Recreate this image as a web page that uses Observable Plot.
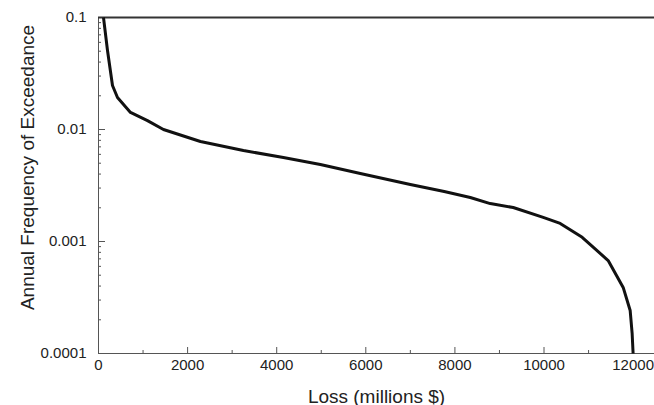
<!DOCTYPE html>
<html>
<head>
<meta charset="utf-8">
<script src="https://cdn.jsdelivr.net/npm/d3@7"></script>
<script src="https://cdn.jsdelivr.net/npm/@observablehq/plot@0.6"></script>
<style>
  html, body { margin: 0; padding: 0; background: #fff; }
</style>
</head>
<body>
<div id="chart"></div>
<script>
// Loss (millions $) along the curve
const lossValues = [112, 202, 314, 426, 718, 1099, 1458, 2288, 3253, 4150, 4980, 5877, 6999, 7760, 8345, 8793, 9309, 9982, 10363, 10857, 11440, 11777, 11934, 11978, 12000];
// Annual frequency of exceedance
const freqValues = [0.1, 0.0507, 0.0247, 0.0193, 0.0142, 0.0120, 0.0100, 0.00782, 0.00649, 0.00562, 0.00487, 0.00405, 0.00323, 0.00280, 0.00247, 0.00218, 0.00201, 0.00164, 0.00145, 0.00109, 0.000676, 0.000389, 0.000242, 0.000151, 0.0001];

const xMajorTicks = [0, 2000, 4000, 6000, 8000, 10000, 12000];
const xMinorTicks = [1000, 3000, 5000, 7000, 9000, 11000];
const yMajorTicks = [0.1, 0.01, 0.001, 0.0001];
const yTickLabels = ["0.1", "0.01", "0.001", "0.0001"];
const yMinorMultipliers = [2, 3, 4, 5, 6, 7, 8, 9];
const yMinorDecades = [0.0001, 0.001, 0.01];
const xTitle = "Loss (millions $)";
const yTitle = "Annual Frequency of Exceedance";

const curve = lossValues.map((v, i) => ({loss: v, freq: freqValues[i]}));
const yMinorTicks = yMinorDecades.flatMap(d => yMinorMultipliers.map(m => m * d));

const W = 654, H = 405, ML = 98, MR = 0, MT = 17, MB = 52;
const innerW = W - ML - MR, innerH = H - MT - MB;
const font = "'Liberation Sans', Arial, Helvetica, sans-serif";

const yLabel = d => {
  const i = yMajorTicks.findIndex(v => Math.abs(Math.log10(v) - Math.log10(d)) < 1e-6);
  return i >= 0 ? yTickLabels[i] : "";
};

const chart = Plot.plot({
  width: W, height: H,
  marginLeft: ML, marginRight: MR, marginTop: MT, marginBottom: MB,
  x: {domain: [0, 12480]},
  y: {type: "log", domain: [0.0001, 0.1]},
  style: {fontFamily: font, background: "#fff", color: "#222", overflow: "visible"},
  marks: [
    // minor and major ticks (pointing inward)
    Plot.tickX(xMinorTicks, {x: d => d, stroke: "#555", insetTop: innerH - 3}),
    Plot.tickX(xMajorTicks, {x: d => d, stroke: "#555", insetTop: innerH - 6}),
    Plot.tickY(yMinorTicks, {y: d => d, stroke: "#555", insetRight: innerW - 3}),
    Plot.tickY(yMajorTicks, {y: d => d, stroke: "#555", insetRight: innerW - 7}),
    // axis lines
    Plot.ruleX([0], {stroke: "#555", strokeWidth: 1}),
    Plot.ruleY([0.0001], {stroke: "#555", strokeWidth: 1}),
    Plot.ruleY([0.1], {stroke: "#333", strokeWidth: 2}),
    // tick labels
    Plot.axisX({ticks: xMajorTicks, tickSize: 0, tickPadding: 6, tickFormat: d => String(d), label: null, fontSize: 15, fill: "#222"}),
    Plot.axisY({ticks: yMajorTicks, tickSize: 0, tickPadding: 12, tickFormat: yLabel, label: null, fontSize: 15, fill: "#222"}),
    // curve
    Plot.line(curve, {x: "loss", y: "freq", stroke: "#111", strokeWidth: 3, strokeLinejoin: "round", strokeLinecap: "butt"}),
    // titles
    Plot.text([xTitle], {text: d => d, frameAnchor: "bottom", dy: 49, lineAnchor: "bottom", textAnchor: "middle", fontSize: 19, fill: "#222"}),
    Plot.text([yTitle], {text: d => d, frameAnchor: "left", dx: -65, dy: -18, rotate: -90, lineAnchor: "bottom", textAnchor: "middle", fontSize: 19, fill: "#222"})
  ]
});
document.getElementById("chart").appendChild(chart);
</script>
</body>
</html>
